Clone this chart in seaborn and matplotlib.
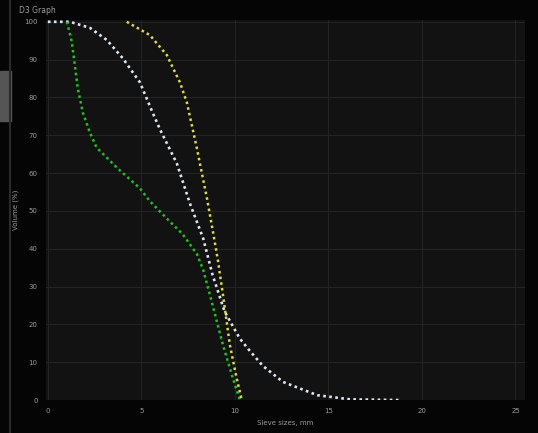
import matplotlib
matplotlib.use("Agg")
import matplotlib.pyplot as plt
import seaborn as sns
import pandas as pd

# curves (size in mm, passing %)
white_x = [0, 1.18, 2.25, 3.15, 4.0, 4.92, 5.6, 6.0, 6.9, 7.6, 8.3, 8.8, 9.45, 10.27, 10.8, 11.5, 12.57, 14.4, 16.15, 18.8]
white_y = [100, 100, 98.4, 95.2, 90.4, 84, 76, 71.5, 62.5, 51.9, 42.8, 33.2, 23.4, 16.2, 13.0, 9.0, 4.8, 1.3, 0.2, 0]
green_x = [1.02, 1.28, 1.44, 1.6, 1.87, 2.25, 2.6, 3.7, 4.92, 5.45, 6.5, 7.2, 7.97, 8.3, 8.66, 9.36, 9.9, 10.27]
green_y = [100, 94.7, 88.6, 82.4, 76, 70.7, 66.8, 61.4, 56, 52.6, 47.3, 43.9, 38.6, 34.5, 27.9, 14.6, 5.6, 0]
yellow_x = [4.22, 5.45, 6.36, 7.06, 7.43, 7.7, 7.97, 8.13, 8.5, 8.82, 9.1, 9.2, 9.36, 9.73, 10.1, 10.37]
yellow_y = [100, 96.5, 91.2, 84, 78.7, 72.6, 66.5, 62.5, 53.5, 44.7, 36.7, 33.2, 27.9, 14.6, 5.6, 0]

x_ticks = [0, 5, 10, 15, 20, 25]
y_ticks = [0, 10, 20, 30, 40, 50, 60, 70, 80, 90, 100]

sns.set_style("dark")
plt.rcParams['font.family'] = ['DejaVu Sans']

fig = plt.figure(figsize=(5.38, 4.33), dpi=100, facecolor="#050505")
ax = fig.add_axes([0.0855, 0.076, 0.89, 0.878])
ax.set_facecolor("#121212")

white = pd.DataFrame({"x": white_x, "y": white_y})
green = pd.DataFrame({"x": green_x, "y": green_y})
yellow = pd.DataFrame({"x": yellow_x, "y": yellow_y})

dots = (0, (1, 1.3))
sns.lineplot(data=white, x="x", y="y", ax=ax, color="#dde6ee", linestyle=dots, linewidth=1.9, sort=False)
sns.lineplot(data=green, x="x", y="y", ax=ax, color="#1fc41f", linestyle=dots, linewidth=1.8, sort=False)
sns.lineplot(data=yellow, x="x", y="y", ax=ax, color="#e2dc3a", linestyle=dots, linewidth=1.8, sort=False)

ax.set_xlim(-0.1, 25.5)
ax.set_ylim(0, 100.5)
ax.set_xticks(x_ticks)
ax.set_yticks(y_ticks)
ax.grid(True, color="#232323", linewidth=0.8)
for s in ax.spines.values():
    s.set_visible(False)
ax.tick_params(colors="#9a9a9a", labelsize=5, length=0, pad=6)
ax.set_xlabel("Sieve sizes, mm", color="#9a9a9a", fontsize=5)
ax.set_ylabel("Volume (%)", color="#9a9a9a", fontsize=5)

fig.text(0.035, 0.987, "D3 Graph", color="#9a9a9a", fontsize=5.5, va="top")
# panel edge on the left
fig.add_artist(plt.Line2D([0.019, 0.019], [0, 1], color="#2a2a2a", linewidth=1.5))
fig.add_artist(plt.Rectangle((0, 0.72), 0.02, 0.115, color="#555555"))

fig.savefig("out.png", dpi=100, facecolor=fig.get_facecolor())
